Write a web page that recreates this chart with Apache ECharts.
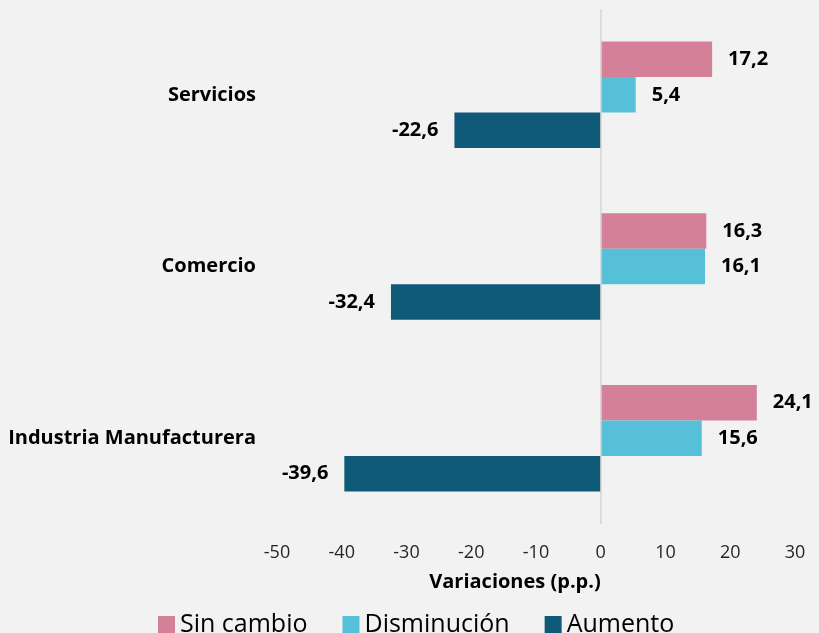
<!DOCTYPE html>
<html>
<head>
<meta charset="utf-8">
<script src="https://cdn.jsdelivr.net/npm/echarts@6/dist/echarts.min.js"></script>
<style>
  html, body { margin: 0; padding: 0; background: #f2f2f2; }
  #chart { width: 819px; height: 633px; }
</style>
</head>
<body>
<div id="chart"></div>
<script>
// categorias, de abajo hacia arriba
var sectores = ["Industria Manufacturera", "Comercio", "Servicios"];
var sinCambio = [24.1, 16.3, 17.2];
var disminucion = [15.6, 16.1, 5.4];
var aumento = [-39.6, -32.4, -22.6];

var fuente = "'Open Sans', 'Noto Sans', sans-serif";

function etiqueta(p) {
  return p.value.toFixed(1).replace(".", ",");
}

function serie(nombre, datos, color, lado) {
  return {
    name: nombre,
    type: "bar",
    data: datos,
    barGap: "0%",
    barCategoryGap: "38%",
    itemStyle: { color: color },
    label: {
      show: true,
      position: lado,
      distance: 16,
      formatter: etiqueta,
      color: "#000",
      fontFamily: fuente,
      fontWeight: "bold",
      fontSize: 20,
      padding: [4, 0, 0, 0],
    },
  };
}

var chart = echarts.init(document.getElementById("chart"));

var sAum = serie("Aumento", aumento, "#0f5a79", "left");
sAum.markLine = {
  silent: true,
  symbol: "none",
  label: { show: false },
  lineStyle: { color: "#d4d4d4", type: "solid", width: 1.5 },
  data: [{ xAxis: 0 }],
};

var option = {
  backgroundColor: "#f2f2f2",
  animation: false,
  grid: {
    left: 277,
    right: 24,
    top: 9,
    bottom: 109,
  },
  xAxis: {
    type: "value",
    min: -50,
    max: 30,
    interval: 10,
    splitLine: { show: false },
    axisLine: { show: false },
    axisTick: { show: false },
    axisLabel: {
      margin: 20,
      color: "#262626",
      fontFamily: fuente,
      fontSize: 18,
    },
    name: "Variaciones (p.p.)",
    nameLocation: "middle",
    nameGap: 48,
    nameTextStyle: {
      color: "#000",
      fontFamily: fuente,
      fontWeight: "bold",
      fontSize: 20,
      padding: [0, 42, 0, 0],
    },
  },
  yAxis: {
    type: "category",
    data: sectores,
    axisLine: { show: false },
    axisTick: { show: false },
    axisLabel: {
      margin: 21,
      color: "#000",
      fontFamily: fuente,
      fontWeight: "bold",
      fontSize: 20,
      padding: [4, 0, 0, 0],
    },
  },
  legend: {
    data: ["Sin cambio", "Disminución", "Aumento"],
    left: 153,
    top: 607,
    itemWidth: 17,
    itemHeight: 17,
    itemGap: 35,
    icon: "rect",
    textStyle: {
      color: "#000",
      fontFamily: fuente,
      fontSize: 25,
    },
  },
  // la primera serie queda arriba dentro de cada categoria
  series: [
    serie("Sin cambio", sinCambio, "#d48099", "right"),
    serie("Disminución", disminucion, "#56c0d8", "right"),
    sAum,
  ],
};

chart.setOption(option);
</script>
</body>
</html>
